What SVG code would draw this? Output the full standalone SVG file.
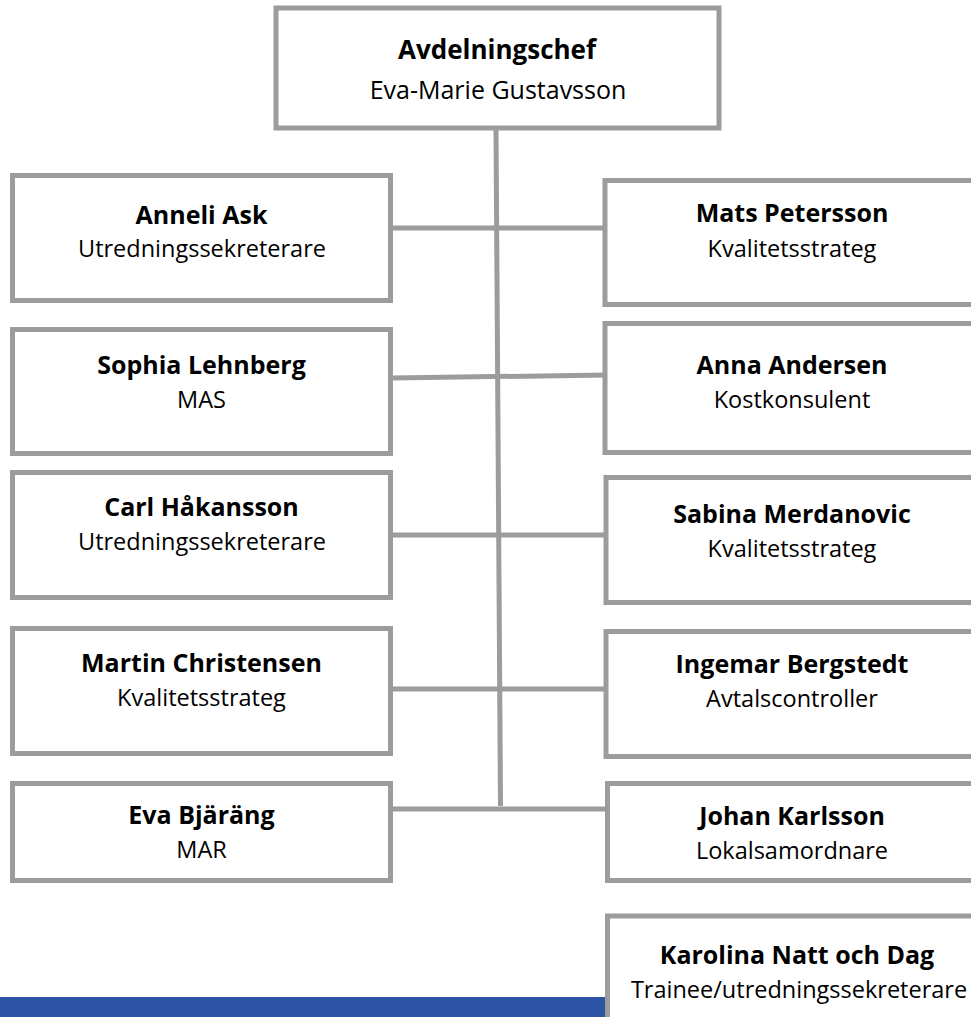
<svg xmlns="http://www.w3.org/2000/svg" width="971" height="1017" viewBox="0 0 971 1017">
<style>
.box{fill:#ffffff;stroke:#9c9c9c;stroke-width:5}
.conn{stroke:#9c9c9c;stroke-width:5;fill:none}
.t{font-family:"Open Sans","Noto Sans",sans-serif;fill:#000;text-anchor:middle}
.n{font-weight:bold;font-size:25px}
.r{font-size:23.5px}
.tn{font-weight:bold;font-size:26px}
.tr{font-size:25px}
</style>
<rect x="0" y="0" width="971" height="1017" fill="#ffffff"/>
<rect x="0" y="997" width="605" height="20" fill="#2e54a6"/>
<g id="connectors">
<line class="conn" x1="496" y1="130" x2="500.5" y2="806"/>
<line class="conn" x1="391" y1="228" x2="605" y2="228"/>
<line class="conn" x1="391" y1="378" x2="608" y2="375"/>
<line class="conn" x1="391" y1="535" x2="606" y2="535"/>
<line class="conn" x1="391" y1="689" x2="606" y2="689"/>
<line class="conn" x1="391" y1="809" x2="608" y2="809"/>
</g>
<g id="n-chef"><rect class="box" x="276" y="8" width="443" height="120"/><text class="t tn" x="497" y="59">Avdelningschef</text><text class="t tr" x="498" y="99">Eva-Marie Gustavsson</text></g>
<g id="n-anneli"><rect class="box" x="12.5" y="175.5" width="378" height="125"/><text class="t n" x="201.5" y="224">Anneli Ask</text><text class="t r" x="202" y="257">Utredningssekreterare</text></g>
<g id="n-sophia"><rect class="box" x="12.5" y="329.5" width="378" height="124"/><text class="t n" x="201.5" y="374">Sophia Lehnberg</text><text class="t r" x="201.5" y="408">MAS</text></g>
<g id="n-carl"><rect class="box" x="12.5" y="472.5" width="378" height="125"/><text class="t n" x="201.5" y="516">Carl Håkansson</text><text class="t r" x="202" y="550">Utredningssekreterare</text></g>
<g id="n-martin"><rect class="box" x="12.5" y="628.5" width="378" height="125"/><text class="t n" x="201.5" y="672">Martin Christensen</text><text class="t r" x="201.5" y="706">Kvalitetsstrateg</text></g>
<g id="n-eva"><rect class="box" x="12.5" y="783.5" width="378" height="97"/><text class="t n" x="201.5" y="824">Eva Bjäräng</text><text class="t r" x="201.5" y="858">MAR</text></g>
<g id="n-mats"><rect class="box" x="605" y="180.5" width="380" height="124"/><text class="t n" x="792" y="222">Mats Petersson</text><text class="t r" x="792" y="257">Kvalitetsstrateg</text></g>
<g id="n-anna"><rect class="box" x="605" y="323.5" width="380" height="129"/><text class="t n" x="792" y="374">Anna Andersen</text><text class="t r" x="792" y="408">Kostkonsulent</text></g>
<g id="n-sabina"><rect class="box" x="606" y="477.5" width="380" height="125"/><text class="t n" x="792" y="523">Sabina Merdanovic</text><text class="t r" x="792" y="557">Kvalitetsstrateg</text></g>
<g id="n-ingemar"><rect class="box" x="606" y="631.5" width="380" height="125"/><text class="t n" x="792" y="673">Ingemar Bergstedt</text><text class="t r" x="792" y="707">Avtalscontroller</text></g>
<g id="n-johan"><rect class="box" x="607.5" y="783.5" width="380" height="97"/><text class="t n" x="792" y="825">Johan Karlsson</text><text class="t r" x="792" y="859">Lokalsamordnare</text></g>
<g id="n-karolina"><rect class="box" x="607.5" y="916" width="390" height="200"/><text class="t n" x="797" y="964">Karolina Natt och Dag</text><text class="t r" x="799" y="998">Trainee/utredningssekreterare</text></g>
</svg>
